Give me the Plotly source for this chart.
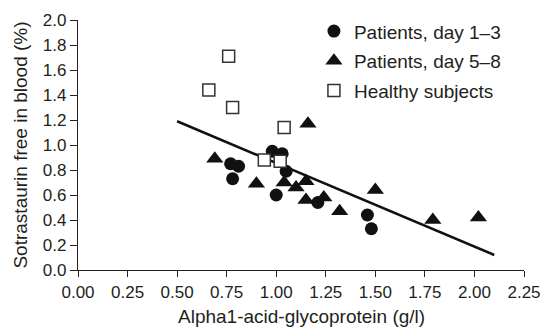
import plotly.graph_objects as go

# Patients, day 1-3 (circles)
d13_x = [0.77, 0.81, 0.78, 0.98, 1.03, 1.05, 1.00, 1.21, 1.46, 1.48]
d13_y = [0.85, 0.83, 0.73, 0.95, 0.93, 0.79, 0.60, 0.54, 0.44, 0.33]

# Patients, day 5-8 (triangles)
d58_x = [0.69, 0.90, 1.04, 1.10, 1.15, 1.15, 1.16, 1.24, 1.32, 1.50, 1.79, 2.02]
d58_y = [0.89, 0.69, 0.70, 0.66, 0.71, 0.56, 1.17, 0.58, 0.47, 0.64, 0.40, 0.42]

# Healthy subjects (open squares)
hs_x = [0.66, 0.76, 0.78, 0.94, 1.02, 1.04]
hs_y = [1.44, 1.71, 1.30, 0.88, 0.87, 1.14]

# Regression line endpoints
fit_x = [0.50, 2.10]
fit_y = [1.19, 0.12]

x_ticks = [0.00, 0.25, 0.50, 0.75, 1.00, 1.25, 1.50, 1.75, 2.00, 2.25]
y_ticks = [0.0, 0.2, 0.4, 0.6, 0.8, 1.0, 1.2, 1.4, 1.6, 1.8, 2.0]

x_title = "Alpha1-acid-glycoprotein (g/l)"
y_title = "Sotrastaurin free in blood (%)"

FONT = "Liberation Sans, Arial, sans-serif"
TXT = "#231f20"

fig = go.Figure()
fig.add_trace(go.Scatter(
    x=fit_x, y=fit_y, mode="lines", showlegend=False,
    line=dict(color="#111111", width=2.5), hoverinfo="skip"))
fig.add_trace(go.Scatter(
    x=d13_x, y=d13_y, mode="markers", name="Patients, day 1\u20133",
    legendgroup="a",
    marker=dict(symbol="circle", size=13, color="#111111", line=dict(width=0))))
fig.add_trace(go.Scatter(
    x=d58_x, y=d58_y, mode="markers", name="Patients, day 5\u20138",
    legendgroup="b",
    marker=dict(symbol="triangle-up", size=15, color="#111111", line=dict(width=0))))
fig.add_trace(go.Scatter(
    x=hs_x, y=hs_y, mode="markers", name="Healthy subjects",
    legendgroup="c",
    marker=dict(symbol="square", size=12, color="white", line=dict(width=1.5, color="#333333"))))

fig.add_annotation(
    text=x_title, xref="paper", yref="paper", x=0.5, y=-0.1875,
    xanchor="center", yanchor="middle", showarrow=False,
    font=dict(size=19, color=TXT, family=FONT))

fig.update_layout(
    width=548, height=331,
    margin=dict(l=78, r=24, t=14, b=61),
    paper_bgcolor="white", plot_bgcolor="white",
    font=dict(family=FONT, color=TXT, size=17),
    legend=dict(
        x=0.529, xanchor="left", y=1.031, yanchor="top",
        font=dict(size=19, color=TXT, family=FONT),
        bgcolor="rgba(0,0,0,0)", tracegroupgap=2, itemwidth=30,
    ),
    xaxis=dict(
        range=[0, 2.25], tickvals=x_ticks, tickformat=".2f",
        showgrid=False, zeroline=False, showline=True, linecolor="#231f20", linewidth=1.2,
        ticks="outside", ticklen=6, tickcolor="#231f20", tickwidth=1.2,
        tickfont=dict(size=17),
        automargin=False,
    ),
    yaxis=dict(
        range=[0, 2.0], tickvals=y_ticks, tickformat=".1f",
        showgrid=False, zeroline=False, showline=True, linecolor="#231f20", linewidth=1.2,
        ticks="outside", ticklen=7, tickcolor="#231f20", tickwidth=1.2,
        tickfont=dict(size=17),
        title=dict(text=y_title, font=dict(size=19), standoff=10),
        automargin=True,
    ),
)

fig.write_html(
    "out.html",
    config={"displayModeBar": False},
    post_script="document.body.style.margin='0';document.body.style.overflow='hidden';",
)
